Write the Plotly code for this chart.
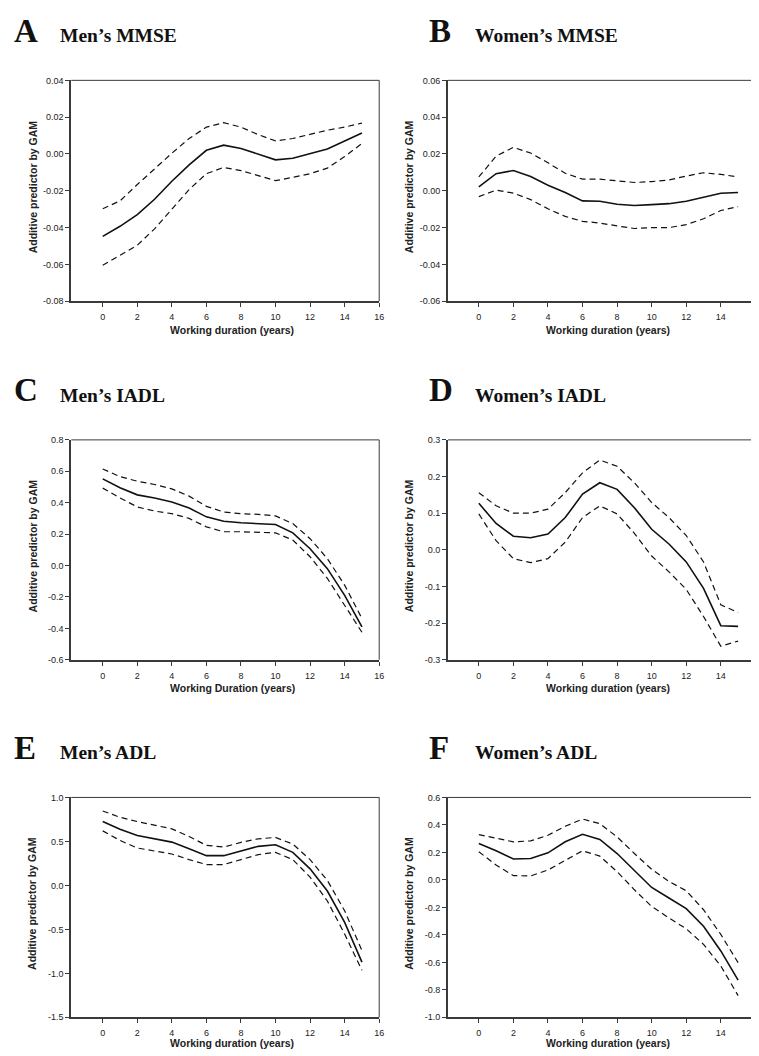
import plotly.graph_objects as go

# ---------------- data ----------------
years = list(range(16))

a_fit = [-0.0448, -0.0393, -0.0330, -0.0246, -0.0148, -0.0059, 0.0020, 0.0048, 0.0030, 0.0000,
         -0.0032, -0.0023, 0.0004, 0.0027, 0.0070, 0.0114]
a_upper = [-0.0298, -0.0255, -0.0166, -0.0080, 0.0004, 0.0084, 0.0146, 0.0170, 0.0146, 0.0105,
           0.0071, 0.0084, 0.0107, 0.0129, 0.0146, 0.0168]
a_lower = [-0.0604, -0.0550, -0.0496, -0.0407, -0.0300, -0.0193, -0.0107, -0.0073, -0.0090, -0.0118,
           -0.0145, -0.0127, -0.0107, -0.0077, -0.0014, 0.0057]

b_fit = [0.0021, 0.0093, 0.0110, 0.0077, 0.0030, -0.0009, -0.0055, -0.0057, -0.0073, -0.0080,
         -0.0075, -0.0070, -0.0057, -0.0036, -0.0013, -0.0009]
b_upper = [0.0075, 0.0188, 0.0236, 0.0205, 0.0152, 0.0095, 0.0063, 0.0063, 0.0054, 0.0045,
           0.0050, 0.0059, 0.0080, 0.0098, 0.0089, 0.0075]
b_lower = [-0.0032, 0.0004, -0.0013, -0.0048, -0.0098, -0.0139, -0.0166, -0.0175, -0.0191, -0.0205,
           -0.0200, -0.0200, -0.0184, -0.0152, -0.0107, -0.0086]

c_fit = [0.552, 0.495, 0.450, 0.430, 0.404, 0.366, 0.310, 0.282, 0.272, 0.267,
         0.261, 0.208, 0.107, -0.020, -0.190, -0.390]
c_upper = [0.615, 0.566, 0.537, 0.516, 0.488, 0.442, 0.377, 0.341, 0.330, 0.326,
           0.316, 0.267, 0.171, 0.044, -0.125, -0.337]
c_lower = [0.493, 0.430, 0.373, 0.347, 0.330, 0.300, 0.246, 0.215, 0.215, 0.210,
           0.208, 0.162, 0.056, -0.082, -0.250, -0.425]

d_fit = [0.127, 0.072, 0.037, 0.033, 0.043, 0.088, 0.152, 0.183, 0.165, 0.115,
         0.056, 0.016, -0.033, -0.105, -0.207, -0.209]
d_upper = [0.156, 0.120, 0.100, 0.100, 0.111, 0.156, 0.210, 0.245, 0.228, 0.183,
           0.129, 0.088, 0.039, -0.033, -0.150, -0.171]
d_lower = [0.098, 0.025, -0.024, -0.035, -0.024, 0.021, 0.088, 0.120, 0.098, 0.045,
           -0.017, -0.060, -0.108, -0.182, -0.263, -0.249]

e_fit = [0.726, 0.639, 0.568, 0.530, 0.492, 0.417, 0.338, 0.338, 0.395, 0.444,
         0.462, 0.376, 0.188, -0.064, -0.421, -0.872]
e_upper = [0.846, 0.774, 0.726, 0.688, 0.643, 0.556, 0.455, 0.436, 0.489, 0.530,
           0.545, 0.470, 0.293, 0.056, -0.289, -0.740]
e_lower = [0.620, 0.511, 0.425, 0.387, 0.357, 0.293, 0.237, 0.237, 0.293, 0.350,
           0.376, 0.293, 0.094, -0.177, -0.553, -0.966]

f_fit = [0.265, 0.212, 0.152, 0.156, 0.197, 0.277, 0.332, 0.294, 0.192, 0.065,
         -0.055, -0.132, -0.209, -0.337, -0.517, -0.729]
f_upper = [0.330, 0.306, 0.277, 0.284, 0.325, 0.390, 0.443, 0.409, 0.313, 0.192,
           0.077, -0.012, -0.079, -0.217, -0.397, -0.602]
f_lower = [0.205, 0.108, 0.031, 0.029, 0.072, 0.144, 0.212, 0.173, 0.060, -0.072,
           -0.193, -0.277, -0.356, -0.469, -0.626, -0.842]

x_tick_vals = [0, 2, 4, 6, 8, 10, 12, 14, 16]
x_tick_text = ["0", "2", "4", "6", "8", "10", "12", "14", "16"]

a_yticks = [-0.08, -0.06, -0.04, -0.02, 0.00, 0.02, 0.04]
a_ylabels = ["-0.08", "-0.06", "-0.04", "-0.02", "0.00", "0.02", "0.04"]
b_yticks = [-0.06, -0.04, -0.02, 0.00, 0.02, 0.04, 0.06]
b_ylabels = ["-0.06", "-0.04", "-0.02", "0.00", "0.02", "0.04", "0.06"]
c_yticks = [-0.6, -0.4, -0.2, 0.0, 0.2, 0.4, 0.6, 0.8]
c_ylabels = ["-0.6", "-0.4", "-0.2", "0.0", "0.2", "0.4", "0.6", "0.8"]
d_yticks = [-0.3, -0.2, -0.1, 0.0, 0.1, 0.2, 0.3]
d_ylabels = ["-0.3", "-0.2", "-0.1", "0.0", "0.1", "0.2", "0.3"]
e_yticks = [-1.5, -1.0, -0.5, 0.0, 0.5, 1.0]
e_ylabels = ["-1.5", "-1.0", "-0.5", "0.0", "0.5", "1.0"]
f_yticks = [-1.0, -0.8, -0.6, -0.4, -0.2, 0.0, 0.2, 0.4, 0.6]
f_ylabels = ["-1.0", "-0.8", "-0.6", "-0.4", "-0.2", "0.0", "0.2", "0.4", "0.6"]

panels = [
    dict(letter="A", title="Men\u2019s MMSE", xtitle="Working duration (years)",
         fit=a_fit, up=a_upper, lo=a_lower, yt=a_yticks, yl=a_ylabels),
    dict(letter="B", title="Women\u2019s MMSE", xtitle="Working duration (years)",
         fit=b_fit, up=b_upper, lo=b_lower, yt=b_yticks, yl=b_ylabels),
    dict(letter="C", title="Men\u2019s IADL", xtitle="Working Duration (years)",
         fit=c_fit, up=c_upper, lo=c_lower, yt=c_yticks, yl=c_ylabels),
    dict(letter="D", title="Women\u2019s IADL", xtitle="Working duration (years)",
         fit=d_fit, up=d_upper, lo=d_lower, yt=d_yticks, yl=d_ylabels),
    dict(letter="E", title="Men\u2019s ADL", xtitle="Working duration (years)",
         fit=e_fit, up=e_upper, lo=e_lower, yt=e_yticks, yl=e_ylabels),
    dict(letter="F", title="Women\u2019s ADL", xtitle="Working duration (years)",
         fit=f_fit, up=f_upper, lo=f_lower, yt=f_yticks, yl=f_ylabels),
]
y_title = "Additive predictor by GAM"

# ---------------- layout geometry (page pixels) ----------------
# The page body has a default 8px margin, so the figure is drawn 8px smaller
# and every page coordinate is shifted by OFF.
PAGE_W, PAGE_H = 759, 1056
OFF = 8
W, H = PAGE_W - OFF, PAGE_H - OFF

cols = [  # (left px, right px, x-range min, x-range max)
    (71.7, 381.7, -1.82, 16.0),
    (451.0, 759.0, -1.78, 15.92),
]
rows = [(76, 299), (439, 661), (800, 1022)]
letter_x = [12, 430]
title_x = [58, 476]
xtitle_y = [328, 690, 1048]


def px(x):
    return (x - OFF) / W


def py(y):
    return 1 - (y - OFF) / H


AX = "#3a3a3a"
LINE = "#111111"
SANS = "Liberation Sans, Arial, sans-serif"
SERIF = "Liberation Serif, Times New Roman, serif"

fig = go.Figure()
annotations = []
shapes = []

for i, p in enumerate(panels):
    r, c = divmod(i, 2)
    n = "" if i == 0 else str(i + 1)
    xl, xr, xmin, xmax = cols[c]
    top, bot = rows[r]
    ymin, ymax = p["yt"][0], p["yt"][-1]

    for series, dash, width in ((p["up"], "6px,4px", 1.2), (p["lo"], "6px,4px", 1.2), (p["fit"], "solid", 1.6)):
        fig.add_trace(go.Scatter(x=years, y=series, mode="lines", xaxis="x" + n, yaxis="y" + n,
                                 line=dict(color=LINE, width=width, dash=dash),
                                 showlegend=False, hoverinfo="skip"))

    fig.layout["xaxis" + n] = dict(
        domain=[px(xl), min(px(xr), 1.0)], anchor="y" + n, range=[xmin, xmax],
        tickmode="array", tickvals=x_tick_vals, ticktext=x_tick_text,
        ticks="outside", ticklen=4, tickwidth=1, tickcolor=AX,
        showline=True, linecolor=AX, linewidth=2, showgrid=False, zeroline=False,
        tickfont=dict(family=SANS, size=9, color="#222"), ticklabelstandoff=2,
    )
    fig.layout["yaxis" + n] = dict(
        domain=[py(bot), py(top)], anchor="x" + n, range=[ymin, ymax],
        tickmode="array", tickvals=p["yt"], ticktext=p["yl"],
        ticks="outside", ticklen=4, tickwidth=1, tickcolor=AX,
        showline=True, linecolor=AX, linewidth=2, showgrid=False, zeroline=False,
        tickfont=dict(family=SANS, size=9, color="#222"),
    )
    # top border and (for left column) right border
    shapes.append(dict(type="line", xref="x" + n + " domain", yref="y" + n + " domain",
                       x0=0, x1=1, y0=1, y1=1, line=dict(color=AX, width=1)))
    if c == 0:
        shapes.append(dict(type="line", xref="x" + n + " domain", yref="y" + n + " domain",
                           x0=1, x1=1, y0=0, y1=1, line=dict(color=AX, width=1)))

    title_base = top - 39
    annotations.append(dict(text="<b>" + p["letter"] + "</b>", xref="paper", yref="paper",
                            x=px(letter_x[c]), y=py(title_base - 11),
                            xanchor="left", yanchor="middle", showarrow=False,
                            font=dict(family=SERIF, size=33, color="#111")))
    annotations.append(dict(text="<b>" + p["title"] + "</b>", xref="paper", yref="paper",
                            x=px(title_x[c]), y=py(title_base - 6),
                            xanchor="left", yanchor="middle", showarrow=False,
                            font=dict(family=SERIF, size=19.5, color="#111")))
    annotations.append(dict(text="<b>" + y_title + "</b>", xref="paper", yref="paper",
                            x=px(xl - 39), y=py((top + bot) / 2 - 4), textangle=-90,
                            xanchor="center", yanchor="middle", showarrow=False,
                            font=dict(family=SANS, size=10.5, color="#222")))
    x_center_px = xl + (0 - xmin) * 17.4 + 7.5 * 17.4
    annotations.append(dict(text="<b>" + p["xtitle"] + "</b>", xref="paper", yref="paper",
                            x=px(x_center_px), y=py(xtitle_y[r]),
                            xanchor="center", yanchor="middle", showarrow=False,
                            font=dict(family=SANS, size=10.5, color="#222")))

fig.update_layout(
    width=W, height=H, margin=dict(l=0, r=0, t=0, b=0),
    paper_bgcolor="white", plot_bgcolor="white",
    annotations=annotations, shapes=shapes, showlegend=False,
)

fig.write_html("out.html")
